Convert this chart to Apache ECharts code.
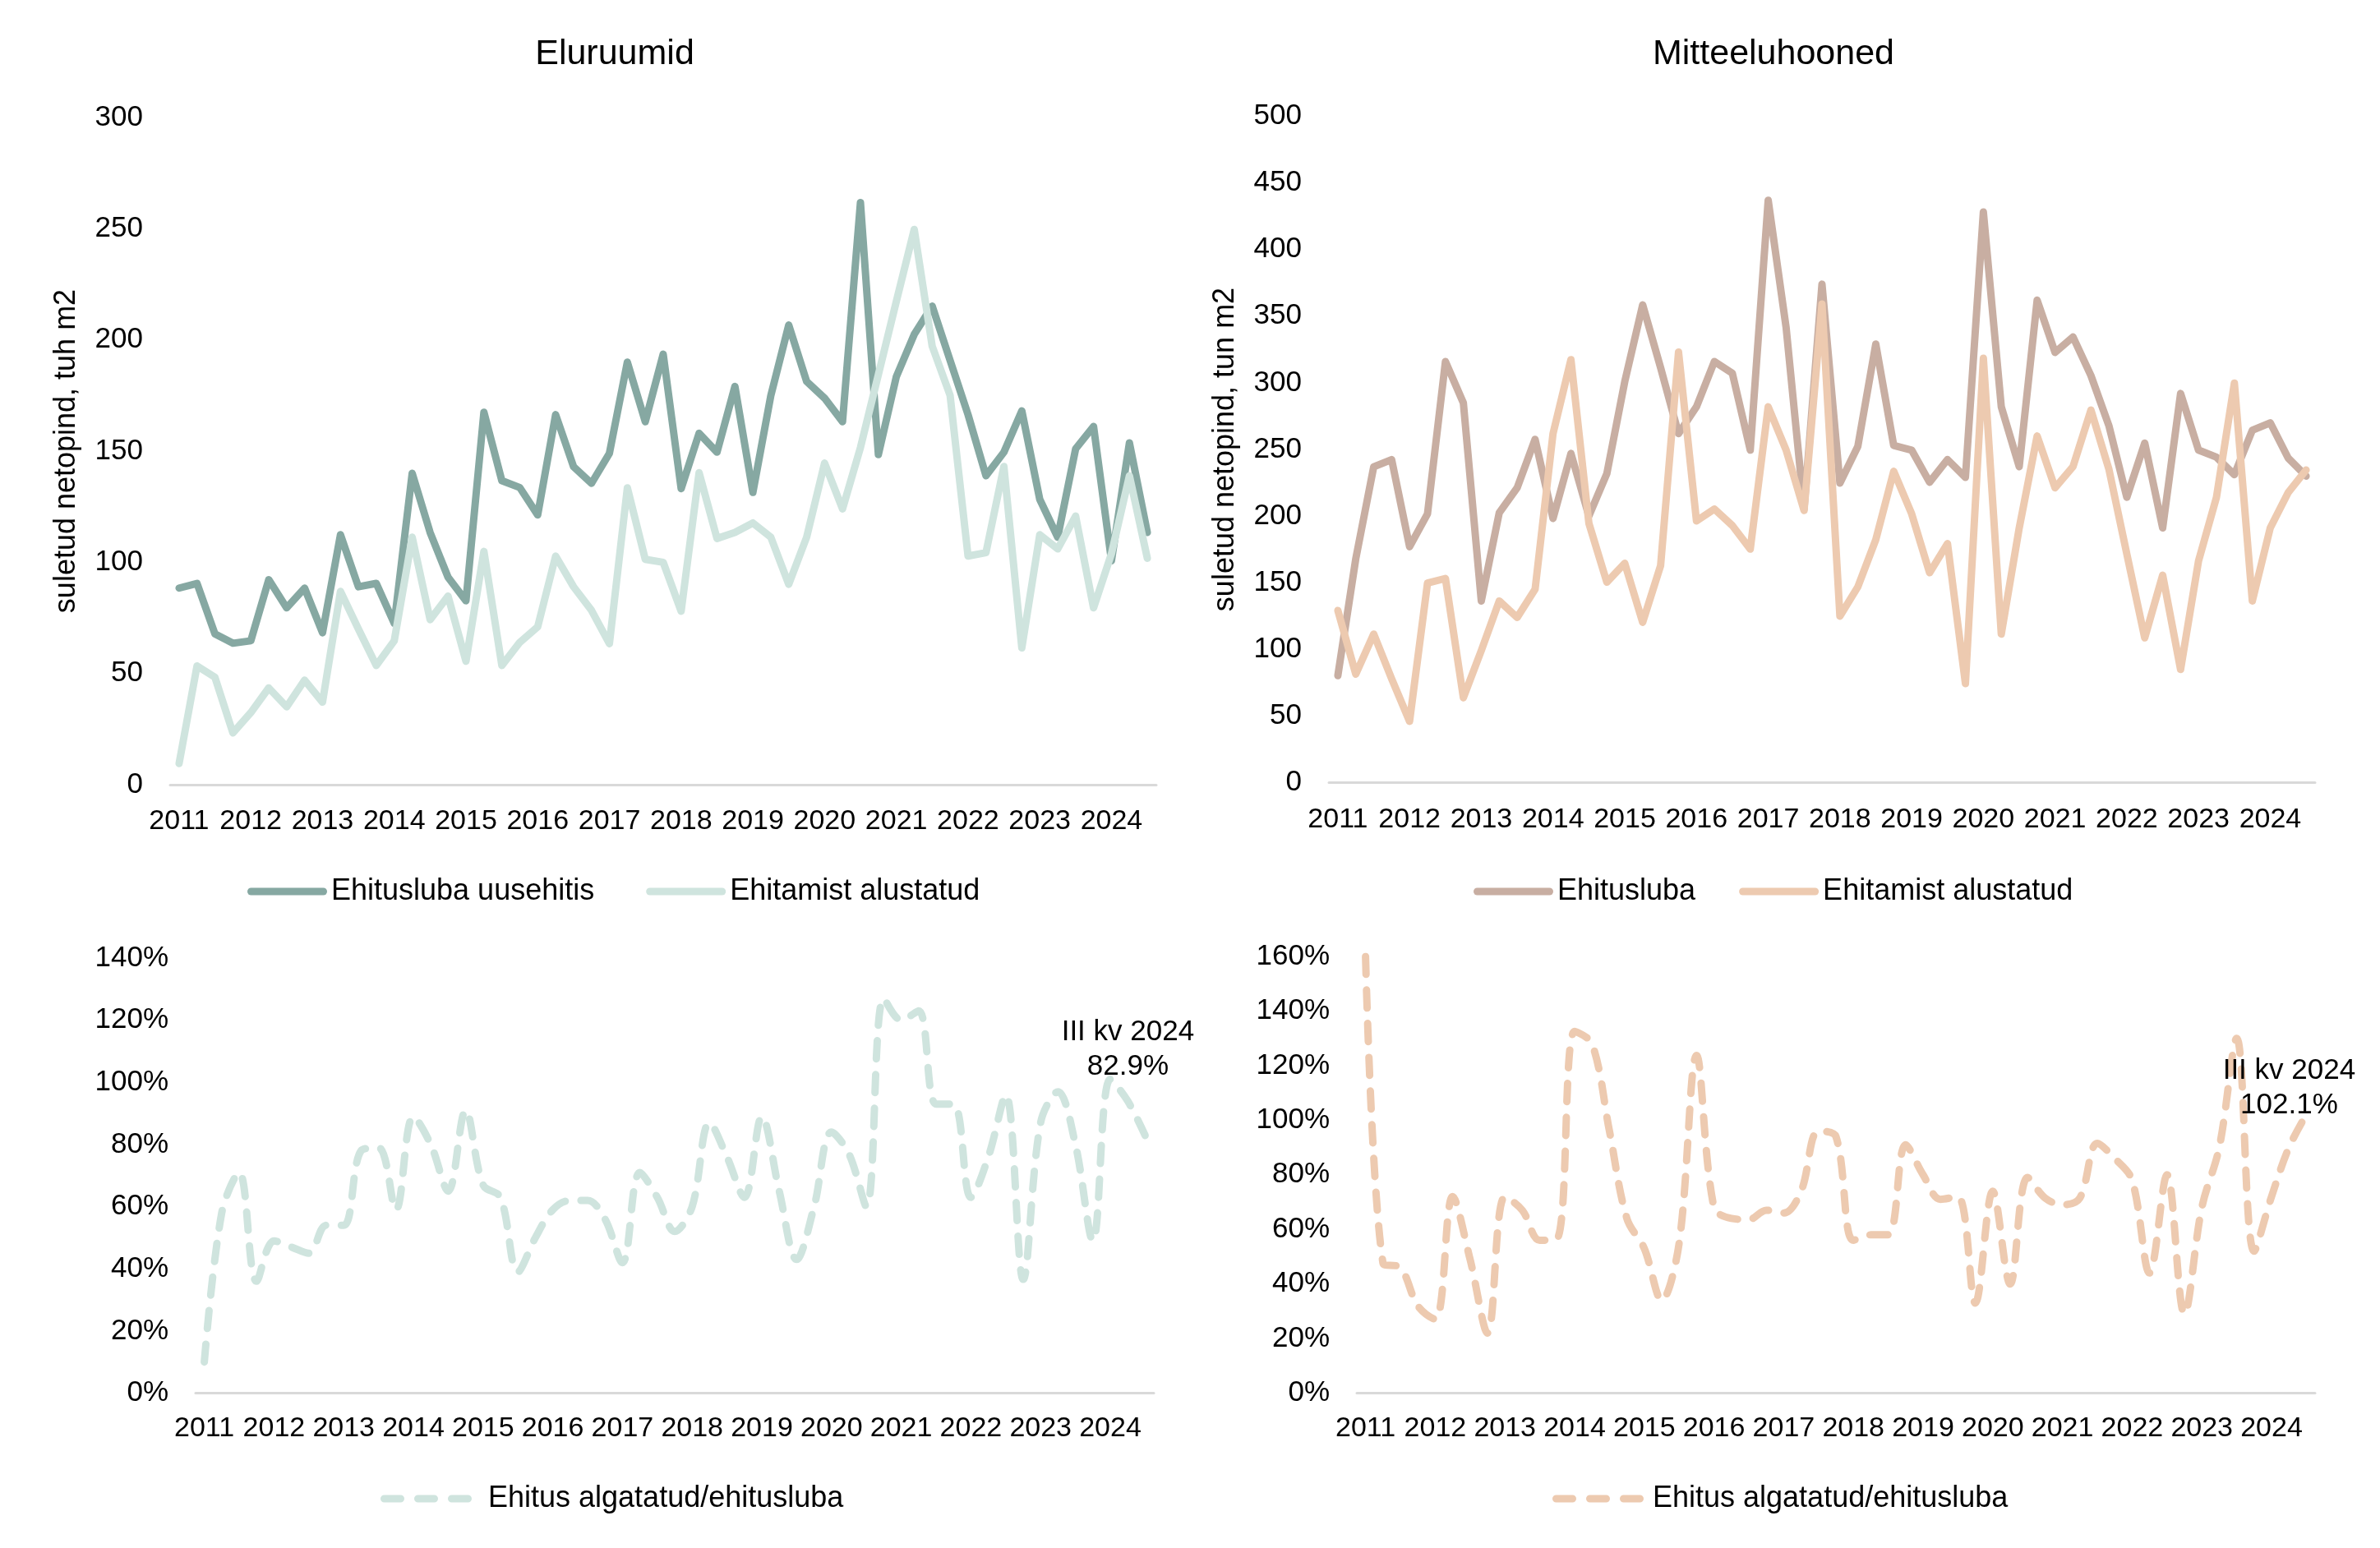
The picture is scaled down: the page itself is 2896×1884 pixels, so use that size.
<!DOCTYPE html>
<html>
<head>
<meta charset="utf-8">
<script src="https://cdn.jsdelivr.net/npm/echarts@6/dist/echarts.min.js"></script>
<style>
html,body{margin:0;padding:0;background:#fff;}
#chart{width:2896px;height:1884px;}
</style>
</head>
<body>
<div id="chart"></div>
<script>
// ---- tick labels / categories ----
const years = ['2011','2012','2013','2014','2015','2016','2017','2018','2019','2020','2021','2022','2023','2024'];
const quarterNames = ['I','II','III','IV'];
const nPoints = 55; // I kv 2011 ... III kv 2024
const categories = [];
years.forEach(y => quarterNames.forEach(q => categories.push(q + ' kv ' + y)));
categories.length = nPoints;

// ---- Eluruumid (tuh m2) ----
const eluEhitusluba = [88.4, 90.5, 67.8, 63.6, 64.7, 92.2, 79.5, 88.4, 68.3, 112.4,
  89.0, 90.5, 72.5, 140.0, 113.4, 93.3, 82.7, 167.5, 136.7, 133.6,
  121.3, 166.4, 143.0, 135.5, 149.0, 190.0, 163.2, 193.6, 133.1, 158.0,
  149.5, 179.1, 131.4, 174.9, 206.7, 181.3, 173.8, 163.2, 261.8, 148.4,
  183.4, 202.5, 215.2, 190.8, 166.4, 138.9, 149.5, 168.1, 128.3, 111.3,
  151.0, 161.1, 100.7, 153.7, 113.4];
const eluAlustatud = [9.5, 53.4, 48.3, 23.3, 32.4, 43.5, 35.0, 47.0, 37.1, 86.9,
  70.0, 53.6, 64.7, 111.3, 74.2, 84.8, 55.5, 104.9, 53.6, 64.0,
  71.0, 102.8, 89.0, 78.4, 63.4, 133.5, 101.3, 100.0, 78.0, 140.3,
  110.7, 113.4, 117.7, 111.3, 90.1, 111.3, 144.6, 124.0, 151.6, 184.4,
  217.3, 249.7, 197.2, 175.0, 102.8, 104.3, 143.1, 61.5, 112.4, 106.0,
  120.8, 79.5, 103.9, 138.9, 101.8];
// ---- Mitteeluhooned (tuh m2) ----
const mitteEhitusluba = [80.3, 168.0, 237.0, 242.4, 177.0, 201.7, 316.0, 284.9, 136.3, 202.4,
  221.2, 257.6, 198.2, 247.0, 200.0, 231.8, 300.8, 358.5, 311.4, 261.9,
  282.0, 316.0, 307.2, 249.5, 437.0, 341.5, 205.3, 374.0, 224.7, 252.3,
  329.1, 253.0, 249.5, 225.4, 242.4, 229.0, 428.2, 282.0, 237.1, 362.0,
  322.8, 334.4, 305.4, 267.9, 214.1, 254.8, 191.1, 292.0, 249.5, 244.2,
  231.1, 264.4, 270.0, 243.5, 230.0];
const mitteAlustatud = [129.2, 81.4, 111.5, 77.9, 46.0, 149.7, 153.2, 63.7, 99.1, 136.3,
  123.9, 145.1, 261.9, 317.4, 194.6, 150.4, 164.6, 120.3, 162.8, 323.1,
  196.4, 205.3, 192.9, 175.2, 282.0, 249.5, 204.2, 359.2, 124.9, 146.9,
  182.3, 233.6, 201.7, 157.5, 179.4, 74.3, 318.5, 111.5, 191.1, 260.1,
  221.2, 237.1, 279.6, 235.3, 171.6, 108.6, 155.7, 84.9, 166.3, 214.1,
  299.8, 136.3, 191.1, 217.6, 234.6];
// ---- Ehitus algatatud / ehitusluba (%) ----
const eluSuhe = [10, 58, 71, 36, 49, 47, 45, 54, 54, 78,
  79, 59, 89, 80, 65, 91, 67, 63, 39, 50,
  59, 62, 62, 56, 42, 71, 63, 52, 60, 87,
  76, 63, 89, 65, 43, 60, 84, 77, 60, 127,
  120, 123, 93, 93, 63, 76, 96, 36.6, 87, 97,
  80, 49, 101, 94, 82.9];
const mitteSuhe = [160, 47.6, 46, 32, 27, 72, 49, 22, 72, 67,
  56, 56.5, 132.5, 128, 96, 64, 53, 34, 55, 123.7,
  68, 64, 63.6, 67, 66, 74, 96, 94, 56, 58,
  58, 91, 80, 71, 72, 33, 74, 40, 79, 71.5,
  69, 71.5, 91.5, 86, 78, 44, 80, 29, 68, 90,
  130, 52, 72, 90, 102.1];

const FONT = "'Liberation Sans', Arial, sans-serif";
const C_ELU_DARK = '#86A8A2', C_ELU_LIGHT = '#CFE4DE';
const C_MIT_DARK = '#C8AEA2', C_MIT_LIGHT = '#EDCAB0';

// legend icons: thick rounded line, and three rounded dashes
const ICON_SOLID = 'path://M4.5,0H92.5A4.5,4.5,0,0,1,92.5,9H4.5A4.5,4.5,0,0,1,4.5,0Z';
const ICON_DASH = 'path://M4.5,0H24.5A4.5,4.5,0,0,1,24.5,9H4.5A4.5,4.5,0,0,1,4.5,0Z' +
  'M45.5,0H65.5A4.5,4.5,0,0,1,65.5,9H45.5A4.5,4.5,0,0,1,45.5,0Z' +
  'M86.5,0H106.5A4.5,4.5,0,0,1,106.5,9H86.5A4.5,4.5,0,0,1,86.5,0Z';

function xAxisFor(gridIndex, margin) {
  return {
    type: 'category', gridIndex: gridIndex, data: categories, boundaryGap: true,
    axisLine: {show: true, lineStyle: {color: '#D9D9D9', width: 3}},
    axisTick: {show: false},
    axisLabel: {
      interval: (i) => i % 4 === 0,
      formatter: (v) => v.split(' ').pop(),
      color: '#000', fontFamily: FONT, fontSize: 34, margin: margin
    },
    splitLine: {show: false}
  };
}
function yAxisFor(gridIndex, max, interval, pct, name) {
  const ax = {
    type: 'value', gridIndex: gridIndex, min: 0, max: max, interval: interval,
    axisLine: {show: false}, axisTick: {show: false}, splitLine: {show: false},
    axisLabel: {color: '#000', fontFamily: FONT, fontSize: 35, margin: 33,
      formatter: pct ? '{value}%' : '{value}'}
  };
  if (name) {
    ax.name = name; ax.nameLocation = 'middle'; ax.nameRotate = 90; ax.nameGap = 108;
    ax.nameTextStyle = {color: '#000', fontFamily: FONT, fontSize: 36};
  }
  return ax;
}
function solid(name, data, color, idx) {
  return {name: name, type: 'line', data: data, xAxisIndex: idx, yAxisIndex: idx,
    symbol: 'none', smooth: false,
    lineStyle: {color: color, width: 9, cap: 'round', join: 'round'},
    itemStyle: {color: color}};
}
function dashed(name, data, color, idx, labelOffset) {
  const last = data.length - 1;
  return {name: name, type: 'line', data: data, xAxisIndex: idx, yAxisIndex: idx,
    symbol: 'none', smooth: 0.35,
    lineStyle: {color: color, width: 9, type: [22, 19], cap: 'round', join: 'round'},
    itemStyle: {color: color},
    markPoint: {
      silent: true, animation: false,
      data: [{
        coord: [categories[last], data[last]], value: data[last],
        symbol: 'circle', symbolSize: 1, itemStyle: {color: 'rgba(0,0,0,0)'},
        label: {show: true, position: 'top', offset: labelOffset,
          formatter: () => categories[last] + '\n' + data[last].toFixed(1) + '%',
          color: '#000', fontFamily: FONT, fontSize: 35, lineHeight: 42, align: 'center'}
      }]
    }};
}
function legendFor(left, top, names, icon, itemWidth, itemGap, padLeft) {
  return {left: left, top: top, orient: 'horizontal',
    data: names.map(n => ({name: n, icon: icon})),
    itemWidth: itemWidth, itemHeight: 9, itemGap: itemGap,
    formatter: (n) => n.trim(),
    textStyle: {color: '#000', fontFamily: FONT, fontSize: 36, padding: [0, 0, 0, padLeft]}};
}

const chart = echarts.init(document.getElementById('chart'), null, {renderer: 'canvas'});
chart.setOption({
  backgroundColor: '#fff',
  animation: false,
  title: [
    {text: 'Eluruumid', left: 743, top: 40, textAlign: 'center',
      textStyle: {color: '#000', fontFamily: FONT, fontSize: 43, fontWeight: 'normal'}},
    {text: 'Mitteeluhooned', left: 2153, top: 40, textAlign: 'center',
      textStyle: {color: '#000', fontFamily: FONT, fontSize: 43, fontWeight: 'normal'}}
  ],
  grid: [
    {left: 207, top: 143, width: 1200, height: 812},
    {left: 1617, top: 141.5, width: 1200, height: 811},
    {left: 238, top: 1166, width: 1166, height: 529.5},
    {left: 1651, top: 1164, width: 1166, height: 531.5}
  ],
  xAxis: [xAxisFor(0, 28), xAxisFor(1, 28), xAxisFor(2, 26), xAxisFor(3, 26)],
  yAxis: [
    yAxisFor(0, 300, 50, false, 'suletud netopind, tuh m2'),
    yAxisFor(1, 500, 50, false, 'suletud netopind, tun m2'),
    yAxisFor(2, 140, 20, true, null),
    yAxisFor(3, 160, 20, true, null)
  ],
  legend: [
    legendFor(296, 1062, ['Ehitusluba uusehitis', 'Ehitamist alustatud'], ICON_SOLID, 97, 63, 0),
    legendFor(1788, 1062, ['Ehitusluba', 'Ehitamist alustatud '], ICON_SOLID, 97, 53, 0),
    legendFor(458, 1801, ['Ehitus algatatud/ehitusluba'], ICON_DASH, 111, 0, 15),
    legendFor(1884, 1801, ['Ehitus algatatud/ehitusluba '], ICON_DASH, 111, 0, 6)
  ],
  series: [
    solid('Ehitusluba uusehitis', eluEhitusluba, C_ELU_DARK, 0),
    solid('Ehitamist alustatud', eluAlustatud, C_ELU_LIGHT, 0),
    solid('Ehitusluba', mitteEhitusluba, C_MIT_DARK, 1),
    solid('Ehitamist alustatud ', mitteAlustatud, C_MIT_LIGHT, 1),
    dashed('Ehitus algatatud/ehitusluba', eluSuhe, C_ELU_LIGHT, 2, [-21, -57]),
    dashed('Ehitus algatatud/ehitusluba ', mitteSuhe, C_MIT_LIGHT, 3, [-21, 16])
  ]
});
</script>
</body>
</html>
